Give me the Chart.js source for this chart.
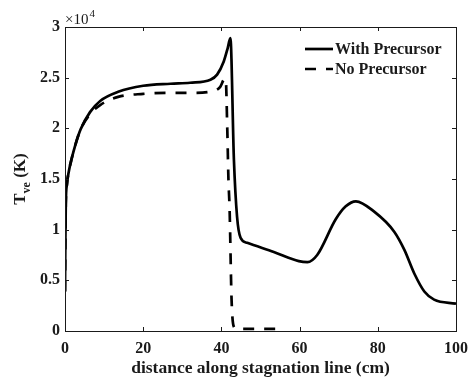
<!DOCTYPE html>
<html>
<head>
<meta charset="utf-8">
<script src="https://cdn.jsdelivr.net/npm/chart.js@4/dist/chart.umd.min.js"></script>
<style>
  html, body { margin: 0; padding: 0; background: #fff; }
  #wrap { width: 471px; height: 384px; }
</style>
</head>
<body>
<div id="wrap"><canvas id="tveChart"></canvas></div>
<script>
// T_ve along the stagnation line (K)
const withX = [0, 0.1, 0.2, 0.5, 1.0, 1.7, 2.6, 4.0, 6.4, 9, 13.6, 20, 27, 32, 37.2, 38.9, 40.6, 41.6, 42.3,
               43.2, 44, 44.9, 46.6, 53.4, 59.8, 62, 64.5, 69.2, 71.8, 74.4, 79, 84.2, 86.8, 89.3, 91.9, 94.4, 100];
const withY = [3900, 9000, 12500, 14500, 15800, 17000, 18300, 19900, 21600, 22700, 23600, 24200, 24400, 24500, 24800, 25300, 26600, 27900, 28900,
               16900, 11300, 9200, 8700, 7800, 6900, 6800, 7500, 11000, 12300, 12800, 11800, 9800, 8000, 5700, 3900, 3100, 2700];

const noX = [0, 0.1, 0.2, 0.5, 1.0, 1.7, 2.6, 4.0, 6.4, 9, 13.6, 20, 27, 32, 37, 39.7, 40.6, 41.1, 41.5, 41.8, 42.1, 42.6, 43.2, 44, 54];
const noY = [3900, 9000, 12500, 14500, 15800, 17000, 18300, 19900, 21400, 22300, 23100, 23400, 23500, 23500, 23600, 24100, 24800, 24900, 20000, 15000, 12000, 3100, 400, 200, 200];

const xTicks = [0, 20, 40, 60, 80, 100];
const yTicks = [0, 5000, 10000, 15000, 20000, 25000, 30000];

const seriesNames = ['With Precursor', 'No Precursor'];

const serif = "'Liberation Serif', 'Times New Roman', serif";
const ink = '#1a1a1a';

function toPoints(xs, ys) {
    return xs.map((x, i) => ({ x: x, y: ys[i] }));
}

// Box, inward ticks, y label, exponent and legend (MATLAB look)
const matlabAxes = {
    id: 'matlabAxes',
    afterDraw(chart) {
        const ctx = chart.ctx;
        const a = chart.chartArea;
        const xs = chart.scales.x;
        const ys = chart.scales.y;
        ctx.save();
        ctx.strokeStyle = ink;
        ctx.lineWidth = 1;
        ctx.strokeRect(Math.round(a.left) + 0.5, Math.round(a.top) + 0.5,
                       Math.round(a.right - a.left), Math.round(a.bottom - a.top));
        const tl = 4;
        ctx.beginPath();
        xTicks.forEach(v => {
            const px = Math.round(xs.getPixelForValue(v)) + 0.5;
            ctx.moveTo(px, a.bottom); ctx.lineTo(px, a.bottom - tl);
            ctx.moveTo(px, a.top); ctx.lineTo(px, a.top + tl);
        });
        yTicks.forEach(v => {
            const py = Math.round(ys.getPixelForValue(v)) + 0.5;
            ctx.moveTo(a.left, py); ctx.lineTo(a.left + tl, py);
            ctx.moveTo(a.right, py); ctx.lineTo(a.right - tl, py);
        });
        ctx.stroke();

        // exponent label
        ctx.fillStyle = ink;
        ctx.textBaseline = 'alphabetic';
        ctx.textAlign = 'left';
        ctx.font = '15px ' + serif;
        ctx.fillText('\u00d710', a.left, a.top - 3);
        const w = ctx.measureText('\u00d710').width;
        ctx.font = '11px ' + serif;
        ctx.fillText('4', a.left + w + 1, a.top - 10);

        // y axis label with subscript
        ctx.translate(25, (a.top + a.bottom) / 2);
        ctx.rotate(-Math.PI / 2);
        ctx.font = 'bold 17px ' + serif;
        const tW = ctx.measureText('T').width;
        ctx.font = 'bold 12px ' + serif;
        const sW = ctx.measureText('ve').width;
        ctx.font = 'bold 17px ' + serif;
        const kW = ctx.measureText(' (K)').width;
        let x0 = -(tW + sW + kW) / 2;
        ctx.fillText('T', x0, 0);
        ctx.font = 'bold 12px ' + serif;
        ctx.fillText('ve', x0 + tW, 5);
        ctx.font = 'bold 17px ' + serif;
        ctx.fillText(' (K)', x0 + tW + sW, 0);
        ctx.restore();

        // legend
        ctx.save();
        ctx.font = 'bold 16px ' + serif;
        ctx.fillStyle = ink;
        ctx.textBaseline = 'middle';
        chart.data.datasets.forEach((ds, i) => {
            const y = 49 + i * 20;
            ctx.strokeStyle = ds.borderColor;
            ctx.lineWidth = ds.borderWidth;
            ctx.setLineDash(ds.borderDash || []);
            ctx.beginPath();
            ctx.moveTo(305, y); ctx.lineTo(333, y);
            ctx.stroke();
            ctx.setLineDash([]);
            ctx.fillText(ds.label, 335, y + 1);
        });
        ctx.restore();
    }
};

const ctx = document.getElementById('tveChart').getContext('2d');
new Chart(ctx, {
    type: 'line',
    data: {
        datasets: [{
            label: seriesNames[0],
            data: toPoints(withX, withY),
            borderColor: '#000',
            borderWidth: 2.7,
            pointRadius: 0,
            cubicInterpolationMode: 'monotone'
        }, {
            label: seriesNames[1],
            data: toPoints(noX, noY),
            borderColor: '#000',
            borderWidth: 2.7,
            borderDash: [11, 10],
            pointRadius: 0,
            cubicInterpolationMode: 'monotone'
        }]
    },
    options: {
        responsive: true,
        maintainAspectRatio: false,
        animation: false,
        layout: { padding: { left: 0, right: 15, top: 27, bottom: 0 } },
        plugins: {
            legend: { display: false },
            tooltip: { enabled: false }
        },
        scales: {
            x: {
                type: 'linear',
                min: 0,
                max: 100,
                afterFit: s => { s.height = 53; s.paddingLeft = 0; s.paddingRight = 0; },
                afterBuildTicks: s => { s.ticks = xTicks.map(v => ({ value: v })); },
                grid: { display: false, drawTicks: false },
                border: { display: false },
                ticks: {
                    padding: 8,
                    color: ink,
                    font: { family: serif, size: 16, weight: 'bold' },
                    maxRotation: 0
                },
                title: {
                    display: true,
                    text: 'distance along stagnation line (cm)',
                    color: ink,
                    font: { family: serif, size: 17.5, weight: 'bold' },
                    padding: { top: 0, bottom: 5 }
                }
            },
            y: {
                min: 0,
                max: 30000,
                afterFit: s => { s.width = 65; s.paddingTop = 0; s.paddingBottom = 0; },
                afterBuildTicks: s => { s.ticks = yTicks.map(v => ({ value: v })); },
                grid: { display: false, drawTicks: false },
                border: { display: false },
                ticks: {
                    padding: 5,
                    color: ink,
                    font: { family: serif, size: 16, weight: 'bold' },
                    callback: v => String(v / 10000)
                }
            }
        }
    },
    plugins: [matlabAxes]
});
</script>
</body>
</html>
